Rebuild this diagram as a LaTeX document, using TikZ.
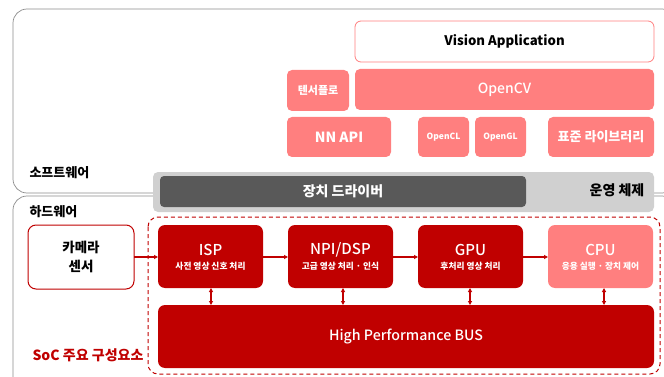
\documentclass[tikz,border=0pt]{standalone}
\usepackage{fontspec}
\setmainfont{Noto Sans CJK KR}
\newfontfamily\medium{Noto Sans CJK KR Medium}
\usetikzlibrary{arrows.meta}
\definecolor{socred}{HTML}{C00000}
\definecolor{swpink}{HTML}{FF7F7F}
\definecolor{osgray}{HTML}{D0D0D0}
\definecolor{drvgray}{HTML}{595959}
\definecolor{framegray}{HTML}{8C8C8C}
\begin{document}
\begin{tikzpicture}[x=1pt,y=-1pt,
  frame/.style={draw=framegray,line width=0.7pt,rounded corners=14pt},
  pinkbox/.style={fill=swpink,rounded corners=5pt,text=white},
  redbox/.style={fill=socred,rounded corners=7pt,text=white},
  link/.style={draw=socred,line width=1.3pt,-{Triangle[length=4pt,width=4pt]}},
  dlink/.style={draw=socred,line width=1.3pt,{Triangle[length=4pt,width=4pt]}-{Triangle[length=4pt,width=4pt]}},
  fs/.style={font=\fontsize{#1}{#1}\selectfont},
  fsb/.style={font=\fontsize{#1}{#1}\selectfont\bfseries},
  fsm/.style={font=\fontsize{#1}{#1}\selectfont\medium}]
\useasboundingbox (0,0) rectangle (664,377);
% layer frames
\draw[frame] (13,9) rectangle (676,193);
\draw[frame] (13,196) rectangle (676,390);
\node[fsb=13,anchor=west] (swlbl) at (26,173) {소프트웨어};
\node[fsb=13,anchor=west] (hwlbl) at (26,212) {하드웨어};
% software stack
\path[draw=swpink,line width=0.8pt,fill=white,rounded corners=6pt] (355,21) rectangle (654,62);
\node[fsb=13.2] (app) at (504.5,41.5) {Vision Application};
\path[pinkbox] (355,69) rectangle (654,110);
\node[fsm=14,text=white] (cv) at (504.5,89.5) {OpenCV};
\path[pinkbox] (287,70) rectangle (349,111);
\node[fsb=11,text=white] (tf) at (318,90.5) {텐서플로};
\path[pinkbox] (287,117) rectangle (391,157);
\node[fsb=14,text=white] (nn) at (339,137) {NN API};
\path[pinkbox] (418,117) rectangle (469,157);
\node[fsb=8.5,text=white] (cl) at (443.5,137) {OpenCL};
\path[pinkbox] (475,117) rectangle (526,157);
\node[fsb=8.5,text=white] (gl) at (500.5,137) {OpenGL};
\path[pinkbox] (548,117) rectangle (654,157);
\node[fsb=13,text=white] (lib) at (601,137) {표준 라이브러리};
% operating system and driver
\path[fill=osgray,rounded corners=5pt] (153,172) rectangle (654,212);
\path[fill=drvgray,rounded corners=4pt] (160,176) rectangle (526,207);
\node[fsb=14,text=white] (drv) at (343,191.5) {장치 드라이버};
\node[fsb=14] (os) at (617,190) {운영 체제};
% SoC area
\draw[socred,line width=1pt,rounded corners=10pt,dash pattern=on 4pt off 3pt] (148,217) rectangle (660,374);
\node[fsb=14,text=socred,anchor=west] (soclbl) at (29,355) {SoC 주요 구성요소};
% camera
\path[draw=socred,line width=1pt,fill=white,rounded corners=8pt] (28,225) rectangle (134,289);
\node[fsb=13.5,align=center] (cam) at (81,257) {카메라\\[5pt]센서};
\coordinate (camE) at (134,257);
% processing units
\path[redbox] (158,225) rectangle (263,288);
\node[fsm=15,text=white] (isp) at (210.5,250) {ISP};
\node[fsb=8.7,text=white] (ispsub) at (210.5,266) {사전 영상 신호 처리};
\path[redbox] (288,225) rectangle (393,288);
\node[fsm=15,text=white] (npu) at (340.5,250) {NPI/DSP};
\node[fsb=8.7,text=white] (npusub) at (340.5,266) {고급 영상 처리 · 인식};
\path[redbox] (418,225) rectangle (523,288);
\node[fsm=15,text=white] (gpu) at (470.5,250) {GPU};
\node[fsb=8.7,text=white] (gpusub) at (470.5,266) {후처리 영상 처리};
\path[redbox,fill=swpink] (548,225) rectangle (653,288);
\node[fsm=15,text=white] (cpu) at (600.5,250) {CPU};
\node[fsb=8.7,text=white] (cpusub) at (600.5,266) {응용 실행 · 장치 제어};
\path[redbox] (158,305) rectangle (654,368);
\node[fsm=14.2,text=white] (bus) at (406,336.5) {High Performance BUS};
% pipeline connectors
\coordinate (ispW) at (158,257); \coordinate (ispE) at (263,257);
\coordinate (npuW) at (288,257); \coordinate (npuE) at (393,257);
\coordinate (gpuW) at (418,257); \coordinate (gpuE) at (523,257);
\coordinate (cpuW) at (548,257);
\draw[link] (camE) -- (ispW);
\draw[link] (ispE) -- (npuW);
\draw[link] (npuE) -- (gpuW);
\draw[link] (gpuE) -- (cpuW);
% bus connectors
\foreach \x/\n in {211/isp,343/npu,470/gpu,604/cpu}{
  \coordinate (\n S) at (\x,288);
  \coordinate (\n B) at (\x,305);
  \draw[dlink] (\n S) -- (\n B);
}
\end{tikzpicture}
\end{document}
